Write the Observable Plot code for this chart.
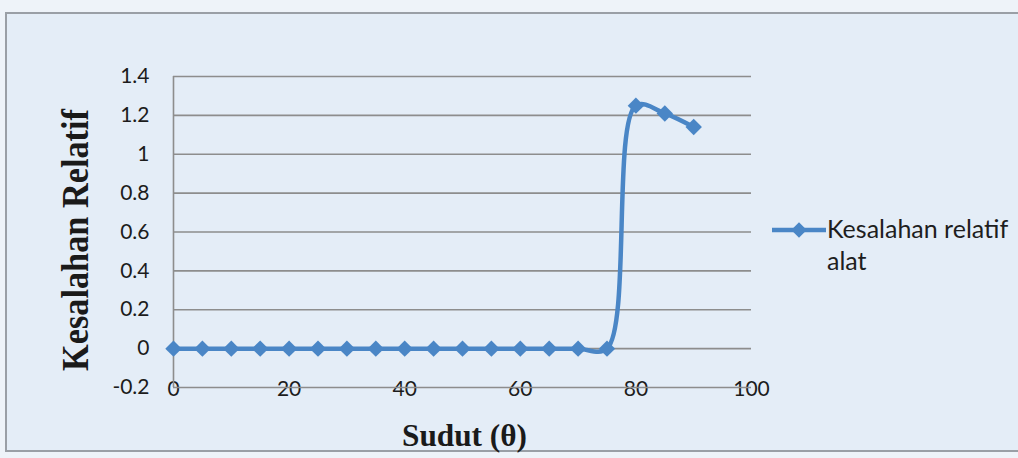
<!DOCTYPE html>
<html>
<head>
<meta charset="utf-8">
<script src="https://cdn.jsdelivr.net/npm/d3@7"></script>
<script src="https://cdn.jsdelivr.net/npm/@observablehq/plot@0.6"></script>
<style>
  html, body { margin: 0; padding: 0; background: #eef3f9; width: 1018px; height: 458px; overflow: hidden; }
  #frame { position: absolute; left: 5px; top: 12px; width: 1030px; height: 440px; border: 2px solid #9a9fa6; background: #e4edf7; box-sizing: border-box; }
  #chart { position: absolute; left: 0; top: 0; }
  #chart g[aria-label="y-axis label"] text, #chart g[aria-label="x-axis label"] text {
    font-family: "Liberation Serif", "DejaVu Serif", serif; font-weight: bold; fill: #1a1a1a;
  }
  #chart g[aria-label="y-axis label"] text { font-size: 38px; }
  #chart g[aria-label="x-axis label"] text { font-size: 32px; }
  #chart g[aria-label="x-axis tick label"] text, #chart g[aria-label="y-axis tick label"] text { fill: #1c1c1c; }
  #legend { position: absolute; left: 770px; top: 212px; font-family: Lato, sans-serif; font-size: 25px; color: #1e1e1e; line-height: 32px; }
  #legend svg { position: absolute; left: 0; top: 8px; }
  #legend .t { position: absolute; left: 57px; top: 0; white-space: nowrap; }
</style>
</head>
<body>
<div id="frame"></div>
<div id="chart"></div>
<div id="legend"></div>
<script>
const angles = [0,5,10,15,20,25,30,35,40,45,50,55,60,65,70,75,80,85,90];
const errors = [0,0,0,0,0,0,0,0,0,0,0,0,0,0,0,0,1.25,1.21,1.14];
const xTicks = [0,20,40,60,80,100];
const yTicks = [-0.2,0,0.2,0.4,0.6,0.8,1,1.2,1.4];
const seriesName = ["Kesalahan relatif", "alat"];
const xTitle = "Sudut (θ)";
const yTitle = "Kesalahan Relatif";

const color = "#4a86c6";
const data = angles.map((a, i) => ({a, e: errors[i]}));

const fmt = d => String(+d.toFixed(1));

const chart = Plot.plot({
  width: 1018,
  height: 458,
  marginLeft: 173,
  marginRight: 267,
  marginTop: 76,
  marginBottom: 71,
  style: {fontFamily: "Lato, sans-serif", fontSize: "21px", background: "transparent", color: "#222"},
  x: {domain: [0, 100], ticks: xTicks, tickFormat: fmt, tickSize: 0, tickPadding: -6,
      label: xTitle, labelAnchor: "center", labelOffset: 58, labelArrow: "none"},
  y: {domain: [-0.2, 1.4], ticks: yTicks, tickFormat: fmt, tickSize: 0, tickPadding: 24,
      label: yTitle, labelAnchor: "center", labelOffset: 112, labelArrow: "none"},
  marks: [
    Plot.ruleY(yTicks, {stroke: "#8d8d8d", strokeWidth: 1.6}),
    Plot.ruleX([0], {stroke: "#8d8d8d", strokeWidth: 1.6}),
    Plot.line(data, {x: "a", y: "e", curve: "catmull-rom", stroke: color, strokeWidth: 4.5}),
    Plot.dot(data, {x: "a", y: "e", symbol: "diamond2", r: 7.4, fill: color, stroke: "none"})
  ]
});
document.getElementById("chart").appendChild(chart);

// axis-title fitting
d3.select(chart).select('g[aria-label="y-axis label"] text')
  .attr("textLength", 262).attr("lengthAdjust", "spacingAndGlyphs").attr("dx", -8);
d3.select(chart).select('g[aria-label="x-axis label"] text')
  .attr("textLength", 125).attr("lengthAdjust", "spacingAndGlyphs").attr("dx", 2);

// legend
const lg = d3.select("#legend");
const ls = lg.append("svg").attr("width", 60).attr("height", 20);
ls.append("line").attr("x1", 2).attr("x2", 56).attr("y1", 10).attr("y2", 10).attr("stroke", color).attr("stroke-width", 4.5);
ls.append("path").attr("d", d3.symbol(d3.symbolDiamond2, Math.PI * 49)()).attr("transform", "translate(29,10)").attr("fill", color);
lg.append("div").attr("class", "t").html(seriesName.join("<br>"));
</script>
</body>
</html>
